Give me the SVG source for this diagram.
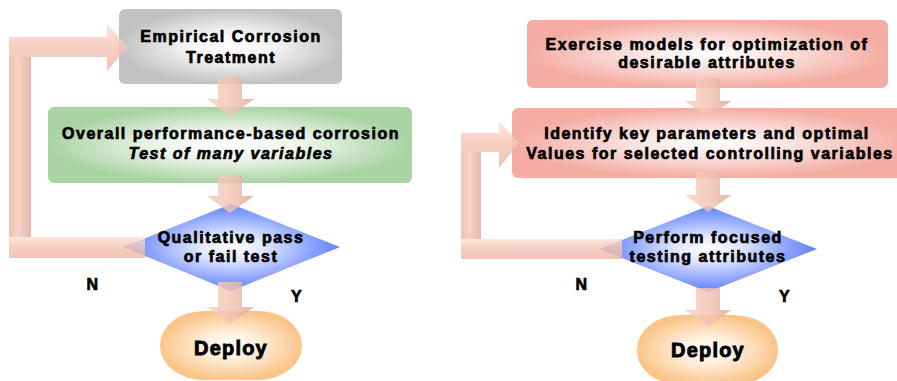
<svg xmlns="http://www.w3.org/2000/svg" width="897" height="381" viewBox="0 0 897 381">
  <defs>
    <radialGradient id="gGray" cx="50%" cy="50%" r="50%">
      <stop offset="0" stop-color="#ffffff"/>
      <stop offset="0.4" stop-color="#f3f3f3"/>
      <stop offset="1" stop-color="#c2c2c2"/>
    </radialGradient>
    <radialGradient id="gGreen" cx="50%" cy="50%" r="50%">
      <stop offset="0" stop-color="#ffffff"/>
      <stop offset="0.4" stop-color="#ecf5ea"/>
      <stop offset="1" stop-color="#a9d3a3"/>
    </radialGradient>
    <radialGradient id="gSalmon" cx="50%" cy="50%" r="50%">
      <stop offset="0" stop-color="#ffffff"/>
      <stop offset="0.4" stop-color="#fae3df"/>
      <stop offset="1" stop-color="#f4aca3"/>
    </radialGradient>
    <radialGradient id="gBlue" cx="50%" cy="50%" r="50%">
      <stop offset="0" stop-color="#ffffff"/>
      <stop offset="0.3" stop-color="#dfe6ff"/>
      <stop offset="0.75" stop-color="#8aa2ff"/>
      <stop offset="1" stop-color="#6184f7"/>
    </radialGradient>
    <radialGradient id="gOrange" cx="50%" cy="50%" r="50%">
      <stop offset="0" stop-color="#ffffff"/>
      <stop offset="0.35" stop-color="#fff0e0"/>
      <stop offset="1" stop-color="#fbc58a"/>
    </radialGradient>
    <!-- shading across block arrows -->
    <linearGradient id="aV" x1="0" y1="0" x2="1" y2="0">
      <stop offset="0" stop-color="#f8d0c0"/>
      <stop offset="0.55" stop-color="#f3c3b2"/>
      <stop offset="1" stop-color="#dca595"/>
    </linearGradient>
    <linearGradient id="aH" x1="0" y1="0" x2="0" y2="1">
      <stop offset="0" stop-color="#fce3da"/>
      <stop offset="0.4" stop-color="#f6c8b8"/>
      <stop offset="1" stop-color="#ecb6a6"/>
    </linearGradient>
    <linearGradient id="aHR" x1="0" y1="0" x2="1" y2="0">
      <stop offset="0" stop-color="#ecb5a5"/>
      <stop offset="0.4" stop-color="#f7cbbb"/>
      <stop offset="1" stop-color="#e2a999"/>
    </linearGradient>
  </defs>
  <style>
    .t { font-family: "Liberation Sans", Arial, sans-serif; font-weight: bold; font-size: 16px; letter-spacing: 1.5px; fill: #000; stroke: #000; stroke-width: 0.7px; text-anchor: middle; }
    .it { font-style: italic; }
    .big { font-size: 20px; letter-spacing: 1.2px; stroke-width: 0.9px; }
    .arr { opacity: 0.82; }
  </style>

  <!-- left flow -->
  <g id="empirical">
    <rect x="119" y="9" width="223" height="75" rx="6" fill="url(#gGray)"/>
  </g>
  <g id="overall">
    <rect x="48" y="107" width="364" height="76" rx="6" fill="url(#gGreen)"/>
  </g>
  <g id="qualitative">
    <polygon points="123,247 231,204 340,247 231,291" fill="url(#gBlue)"/>
  </g>
  <g id="deploy-left">
    <rect x="160" y="311" width="142" height="69" rx="44" ry="34" fill="url(#gOrange)"/>
  </g>

  <!-- right flow -->
  <g id="exercise">
    <rect x="527" y="20" width="361" height="68" rx="6" fill="url(#gSalmon)"/>
  </g>
  <g id="identify">
    <rect x="512" y="108" width="400" height="70" rx="6" fill="url(#gSalmon)"/>
  </g>
  <g id="perform">
    <polygon points="599,249 708,206 817,249 708,292" fill="url(#gBlue)"/>
  </g>
  <g id="deploy-right">
    <rect x="637" y="315" width="141" height="70" rx="44" ry="34" fill="url(#gOrange)"/>
  </g>

  <!-- block arrow connectors -->
  <g id="connectors" class="arr">
    <!-- left column, downward -->
    <polygon points="218,77 242,77 242,99 254,99 230,116 207,99 218,99" fill="url(#aV)"/>
    <polygon points="218,175 242,175 242,196 254,196 230,213 207,196 218,196" fill="url(#aV)"/>
    <polygon points="218,282 242,282 242,307 254,307 230,324 207,307 218,307" fill="url(#aV)"/>
    <!-- left loop back (N) -->
    <rect x="9" y="237" width="136" height="21" fill="url(#aH)"/>
    <rect x="9" y="57" width="22" height="180" fill="url(#aHR)"/>
    <polygon points="9,37 107,37 107,24 128,47 107,71 107,57 9,57" fill="url(#aH)"/>

    <!-- right column, downward -->
    <polygon points="696,78 720,78 720,101 731,101 708,118 685,101 696,101" fill="url(#aV)"/>
    <polygon points="696,172 720,172 720,195 731,195 708,212 685,195 696,195" fill="url(#aV)"/>
    <polygon points="696,288 720,288 720,310 731,310 708,327 685,310 696,310" fill="url(#aV)"/>
    <!-- right loop back (N) -->
    <rect x="461" y="239" width="161" height="20" fill="url(#aH)"/>
    <rect x="461" y="152" width="20" height="87" fill="url(#aHR)"/>
    <polygon points="461,133 499,133 499,122 519,143 499,168 499,152 461,152" fill="url(#aH)"/>
  </g>

  <!-- labels -->
  <g id="labels">
    <text class="t" x="231" y="42">Empirical Corrosion</text>
    <text class="t" x="231" y="63">Treatment</text>
    <text class="t" x="231" y="139">Overall performance-based corrosion</text>
    <text class="t it" x="231" y="159">Test of many variables</text>
    <text class="t" x="231" y="243">Qualitative pass</text>
    <text class="t" x="231" y="262">or fail test</text>
    <text class="t" x="93" y="290">N</text>
    <text class="t" x="297" y="302">Y</text>
    <text class="t big" x="231" y="355">Deploy</text>

    <text class="t" x="707" y="50">Exercise models for optimization of</text>
    <text class="t" x="707" y="68">desirable attributes</text>
    <text class="t" x="707" y="139">Identify key parameters and optimal</text>
    <text class="t" x="710" y="159">Values for selected controlling variables</text>
    <text class="t" x="708" y="243">Perform focused</text>
    <text class="t" x="708" y="262">testing attributes</text>
    <text class="t" x="582" y="290">N</text>
    <text class="t" x="785" y="302">Y</text>
    <text class="t big" x="708" y="357">Deploy</text>
  </g>
</svg>
